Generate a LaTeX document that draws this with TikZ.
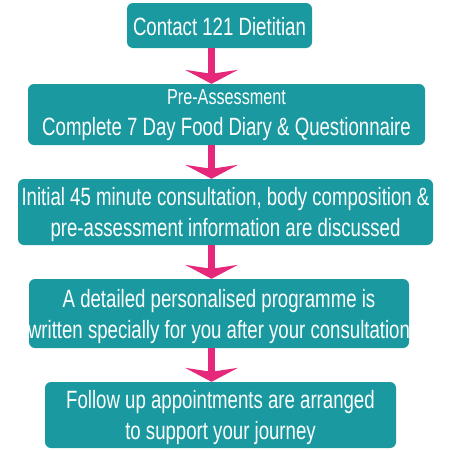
\documentclass[tikz,border=0pt]{standalone}
\usepackage{fontspec}
\setmainfont[FakeStretch=0.745]{Liberation Sans}
\usetikzlibrary{arrows.meta}
\definecolor{boxteal}{HTML}{1A9AA0}
\definecolor{arrowpink}{HTML}{E6287A}
\tikzset{
  stepbox/.style={rectangle, rounded corners=6pt, fill=boxteal, inner sep=0pt},
  steptext/.style={text=white, inner sep=0pt, align=center, font=\fontsize{25}{31}\selectfont},
  flowarrow/.style={draw=arrowpink, line width=7.5pt,
    -{Stealth[length=14pt,width=53pt,inset=4pt,line width=0pt]}}
}
\begin{document}
\begin{tikzpicture}[x=1pt,y=-1pt]
\useasboundingbox[fill=white] (0,0) rectangle (450,450);
\node[stepbox, minimum width=185pt, minimum height=45pt] (b1) at (219.5,25.5) {};
\node[stepbox, minimum width=397pt, minimum height=61pt] (b2) at (226.5,114.5) {};
\node[stepbox, minimum width=415pt, minimum height=66pt] (b3) at (225.5,212) {};
\node[stepbox, minimum width=380pt, minimum height=69pt] (b4) at (219,313.5) {};
\node[stepbox, minimum width=351pt, minimum height=66pt] (b5) at (220.5,415) {};
\node[steptext] (t1) at ([yshift=-1.5pt]b1.center) {Contact 121 Dietitian};
\node[steptext] (t2) at ([yshift=-0.5pt]b2.center)
  {{\fontsize{21.7}{26}\selectfont Pre-Assessment}\\[0pt]Complete 7 Day Food Diary \& Questionnaire};
\node[steptext] (t3) at ([yshift=-3pt]b3.center)
  {Initial 45 minute consultation, body composition \&\\pre-assessment information are discussed};
\node[steptext] (t4) at ([yshift=-3pt]b4.center)
  {A detailed personalised programme is\\written specially for you after your consultation};
\node[steptext] (t5) at ([yshift=-3pt]b5.center)
  {Follow up appointments are arranged\\to support your journey};
\coordinate (ax) at (211.5,0);
\draw[flowarrow] (b1.south -| ax) -- (b2.north -| ax);
\draw[flowarrow] (b2.south -| ax) -- (b3.north -| ax);
\draw[flowarrow] (b3.south -| ax) -- (b4.north -| ax);
\draw[flowarrow] (b4.south -| ax) -- (b5.north -| ax);
\end{tikzpicture}
\end{document}
